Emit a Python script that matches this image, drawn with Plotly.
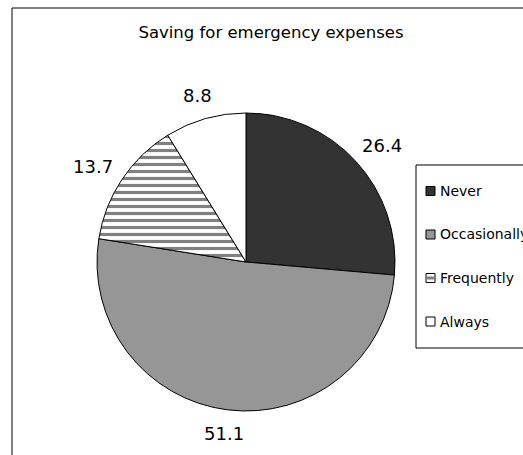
import math
import plotly.graph_objects as go

categories = ["Never", "Occasionally", "Frequently", "Always"]
values = [26.4, 51.1, 13.7, 8.8]
title_text = "Saving for emergency expenses"

W, H = 523, 455
colors = ["#333333", "#969696", "#ffffff", "#ffffff"]
patterns = ["", "", "-", ""]

# pie geometry (pixels)
PX0, PX1, PY0, PY1 = 97, 395, 113, 411
CX, CY = (PX0 + PX1) / 2, (PY0 + PY1) / 2
R = (PX1 - PX0) / 2
LABEL_SIZE = 18

fig = go.Figure(go.Pie(
    labels=categories,
    values=values,
    sort=False,
    direction="clockwise",
    rotation=0,
    textinfo="none",
    marker=dict(
        colors=colors,
        line=dict(color="#000000", width=1),
        pattern=dict(shape=patterns, fgcolor="#808080", bgcolor="#ffffff",
                     size=7, solidity=0.45, fillmode="replace"),
    ),
    domain=dict(x=[PX0 / W, PX1 / W], y=[1 - PY1 / H, 1 - PY0 / H]),
    hoverinfo="skip",
    showlegend=False,
))

shapes = [
    dict(type="rect", xref="paper", yref="paper",
         x0=12 / W, x1=1.2, y0=-0.2, y1=1 - 8 / H,
         line=dict(color="#000000", width=1), fillcolor="rgba(0,0,0,0)",
         layer="below"),
    dict(type="rect", xref="paper", yref="paper",
         x0=416 / W, x1=1.2, y0=1 - 348 / H, y1=1 - 165 / H,
         line=dict(color="#000000", width=1), fillcolor="rgba(0,0,0,0)",
         layer="below"),
]
annotations = []

# value labels outside the slices, placed from the data (text box outside)
total = sum(values)
cum = 0.0
for v in values:
    mid = (cum + v / 2) / total * 2 * math.pi
    cum += v
    txt = f"{v:.1f}"
    tw = sum(0.318 if ch == "." else 0.636 for ch in txt) * LABEL_SIZE
    ux, uy = math.sin(mid), -math.cos(mid)
    gap = 15
    lx = CX + ux * (R + gap) + ux * tw / 2
    ly = CY + uy * (R + gap) + uy * LABEL_SIZE / 2
    annotations.append(dict(text=txt, xref="paper", yref="paper",
                            x=lx / W, y=1 - ly / H, xanchor="center",
                            yanchor="middle", showarrow=False,
                            font=dict(size=LABEL_SIZE, family="DejaVu Sans",
                                      color="#000000")))

# custom legend built from the category list
leg_top, leg_step = 191, 43.5
sw = 9
for i, (cat, col, pat) in enumerate(zip(categories, colors, patterns)):
    yc = leg_top + i * leg_step
    shapes.append(dict(type="rect", xref="paper", yref="paper",
                       x0=426 / W, x1=(426 + sw) / W,
                       y0=1 - (yc + sw / 2) / H, y1=1 - (yc - sw / 2) / H,
                       line=dict(color="#000000", width=1), fillcolor=col))
    if pat == "-":
        shapes.append(dict(type="rect", xref="paper", yref="paper",
                           x0=427 / W, x1=(425 + sw) / W,
                           y0=1 - (yc + 1.5) / H, y1=1 - (yc - 1.5) / H,
                           line=dict(width=0), fillcolor="#808080"))
    annotations.append(dict(text=cat, xref="paper", yref="paper",
                            x=438 / W, y=1 - yc / H, xanchor="left",
                            yanchor="middle", showarrow=False,
                            font=dict(size=14, family="DejaVu Sans",
                                      color="#000000")))

fig.update_layout(
    width=W, height=H,
    margin=dict(l=0, r=0, t=0, b=0, autoexpand=False),
    paper_bgcolor="#ffffff",
    font=dict(family="DejaVu Sans", color="#000000"),
    title=dict(text=title_text, x=271 / W, xanchor="center", y=1 - 32 / H,
               yanchor="middle", font=dict(size=16.5, family="DejaVu Sans",
                                           color="#000000")),
    showlegend=False,
    shapes=shapes,
    annotations=annotations,
)

fig.write_html("out.html")
